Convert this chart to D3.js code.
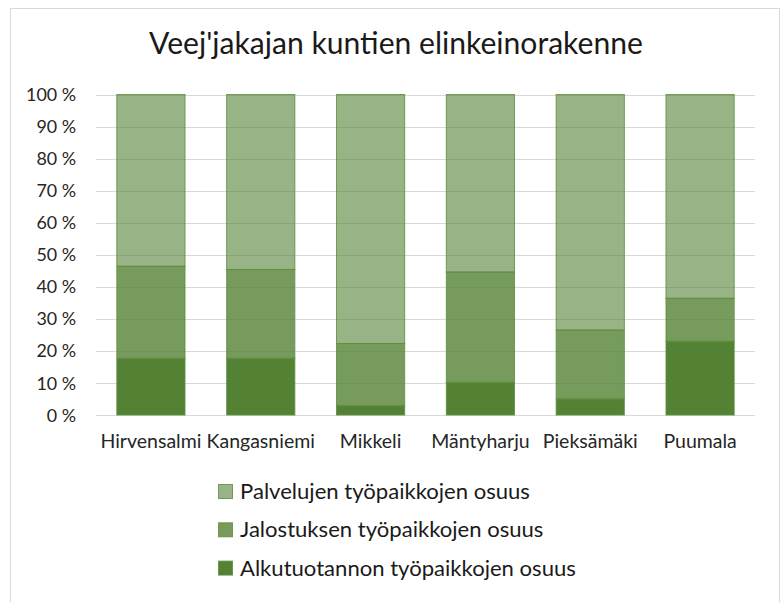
<!DOCTYPE html>
<html>
<head>
<meta charset="utf-8">
<script src="https://cdn.jsdelivr.net/npm/d3@7"></script>
<style>
  html, body { margin: 0; padding: 0; background: #fff; }
  svg { display: block; }
  text { font-family: Lato, "Open Sans", sans-serif; }
</style>
</head>
<body>
<svg id="chart" width="783" height="602"></svg>
<script>
// ---- data ----
const titleText = "Veej'jakajan kuntien elinkeinorakenne";
const categories = ["Hirvensalmi", "Kangasniemi", "Mikkeli", "Mäntyharju", "Pieksämäki", "Puumala"];
const seriesNames = [
  "Alkutuotannon työpaikkojen osuus",
  "Jalostuksen työpaikkojen osuus",
  "Palvelujen työpaikkojen osuus"
];
const alkutuotanto = [17.7, 17.7, 2.9, 10.2, 5.0, 23.0];
const jalostus     = [28.7, 27.7, 19.4, 34.4, 21.5, 13.4];
const palvelut     = [53.6, 54.6, 77.7, 55.4, 73.5, 63.6];
const yTicks = [0, 10, 20, 30, 40, 50, 60, 70, 80, 90, 100];

// ---- build table ----
const rows = categories.map((c, i) => ({
  cat: c,
  [seriesNames[0]]: alkutuotanto[i],
  [seriesNames[1]]: jalostus[i],
  [seriesNames[2]]: palvelut[i]
}));
const stacked = d3.stack().keys(seriesNames)(rows);

const svg = d3.select("#chart");
const base = "#548235";
const opac = { [seriesNames[0]]: 1, [seriesNames[1]]: 0.8, [seriesNames[2]]: 0.6 };

// outer border
svg.append("rect")
  .attr("x", 10.5).attr("y", 8.5).attr("width", 769).attr("height", 620)
  .attr("fill", "#fff").attr("stroke", "#d9d9d9").attr("stroke-width", 1);

const x = d3.scaleBand().domain(categories).range([96, 755]).paddingInner(0.37).paddingOuter(0.185);
const y = d3.scaleLinear().domain([0, 100]).range([415, 94.5]);

function fitText(sel, target) {
  const len = sel.node().getComputedTextLength();
  const fs = parseFloat(sel.attr("font-size"));
  const nfs = fs * target / len;
  sel.attr("font-size", nfs);
  return nfs;
}

// gridlines
svg.append("g")
  .selectAll("line").data(yTicks).join("line")
  .attr("x1", 96).attr("x2", 755)
  .attr("y1", d => Math.round(y(d)) + 0.5).attr("y2", d => Math.round(y(d)) + 0.5)
  .attr("stroke", "#d9d9d9").attr("stroke-width", 1);

// y axis labels via d3 axis
const yAxis = d3.axisLeft(y).tickValues(yTicks).tickFormat(d => d + " %").tickSize(0).tickPadding(0);
const yg = svg.append("g").attr("transform", "translate(76,0)").call(yAxis);
yg.select(".domain").remove();
yg.selectAll("text").attr("fill", "#262626").attr("font-family", "Lato, sans-serif").attr("font-size", 18);
{
  const t100 = yg.selectAll("text").filter(d => d === 100);
  const fs = fitText(t100, 50);
  yg.selectAll("text").attr("font-size", fs).attr("dy", "0.34em");
}

// bars
svg.append("g")
  .selectAll("g").data(stacked).join("g")
  .attr("fill", base)
  .attr("fill-opacity", d => opac[d.key])
  .selectAll("rect").data(d => d).join("rect")
  .attr("x", d => x(d.data.cat) + 0.5)
  .attr("width", x.bandwidth() - 1)
  .attr("y", d => y(d[1]))
  .attr("height", d => y(d[0]) - y(d[1]))
  .attr("stroke", "#5f8f40").attr("stroke-opacity", 0.85).attr("stroke-width", 1);

// x axis labels
const xAxis = d3.axisBottom(x).tickSize(0).tickPadding(0);
const xg = svg.append("g").attr("transform", "translate(0,415)").call(xAxis);
xg.select(".domain").remove();
xg.selectAll("text").attr("fill", "#262626").attr("font-family", "Lato, sans-serif")
  .attr("font-size", 16).attr("dy", null).attr("y", 32.7);
{
  const tH = xg.selectAll("text").filter(d => d === categories[0]);
  const fs = fitText(tH, 101);
  xg.selectAll("text").attr("font-size", fs);
}

// title
{
  const t = svg.append("text").attr("x", 396).attr("y", 54).attr("text-anchor", "middle")
    .attr("fill", "#1a1a1a").attr("font-size", 26).text(titleText);
  fitText(t, 494);
}

// legend (reverse order)
const legendOrder = seriesNames.slice().reverse();
const lg = svg.append("g");
let legendFs = 20;
legendOrder.forEach((name, i) => {
  const by = 499 + i * 38.3;
  lg.append("rect")
    .attr("x", 218.5).attr("y", by - 14.5).attr("width", 14).attr("height", 14)
    .attr("fill", base).attr("fill-opacity", opac[name])
    .attr("stroke", "#5f8f40").attr("stroke-opacity", 0.85);
  const t = lg.append("text").attr("x", 240).attr("y", by)
    .attr("fill", "#1a1a1a").attr("font-size", legendFs).text(name);
  if (i === 0) legendFs = fitText(t, 290);
});
</script>
</body>
</html>
